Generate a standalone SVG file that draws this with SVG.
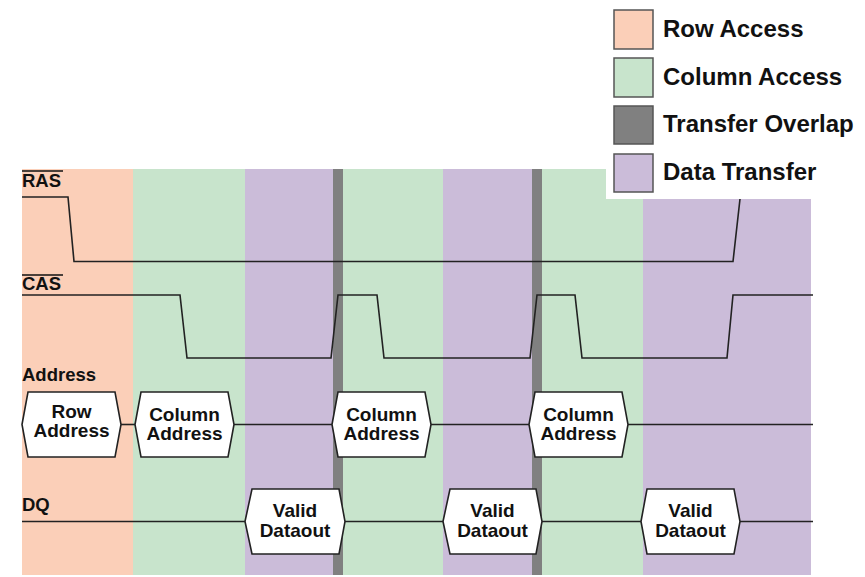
<svg xmlns="http://www.w3.org/2000/svg" width="865" height="577" viewBox="0 0 865 577">
<style>
.row{fill:#fbcfb8}
.col{fill:#c8e4cc}
.ovl{fill:#808080}
.dat{fill:#cbbcd9}
.sig{fill:none;stroke:#222;stroke-width:1.6;stroke-linejoin:miter}
.hex{fill:#fff;stroke:#222;stroke-width:1.6}
.lbl{font-family:"Liberation Sans",Arial,sans-serif;font-weight:bold;font-size:18.5px;fill:#111}
.ht{font-family:"Liberation Sans",Arial,sans-serif;font-weight:bold;font-size:19px;fill:#111;text-anchor:middle}
.lg{font-family:"Liberation Sans",Arial,sans-serif;font-weight:bold;font-size:24px;fill:#111}
.sw{stroke:#555;stroke-width:1.5}
</style>
<rect width="865" height="577" fill="#fff"/>
<g id="bands">
<rect class="row" x="22" y="169" width="111" height="406"/>
<rect class="col" x="133" y="169" width="112" height="406"/>
<rect class="dat" x="245" y="169" width="88" height="406"/>
<rect class="ovl" x="333" y="169" width="10" height="406"/>
<rect class="col" x="343" y="169" width="100" height="406"/>
<rect class="dat" x="443" y="169" width="89" height="406"/>
<rect class="ovl" x="532" y="169" width="10" height="406"/>
<rect class="col" x="542" y="169" width="101" height="406"/>
<rect class="dat" x="643" y="169" width="168" height="406"/>
</g>
<g id="connectors">
<polyline class="sig" points="22,197 68,197 74,261.5 733,261.5 741,190"/>
<polyline class="sig" points="22,295 180,295 187,358 331,358 338,295 377,295 384,358 530,358 537,295 575,295 582,358 727,358 733,295 813,295"/>
<line class="sig" x1="121" y1="424.5" x2="135" y2="424.5"/>
<line class="sig" x1="234" y1="424.5" x2="332" y2="424.5"/>
<line class="sig" x1="431" y1="424.5" x2="529" y2="424.5"/>
<line class="sig" x1="628" y1="424.5" x2="813" y2="424.5"/>
<line class="sig" x1="22" y1="521.5" x2="245" y2="521.5"/>
<line class="sig" x1="345" y1="521.5" x2="443" y2="521.5"/>
<line class="sig" x1="542" y1="521.5" x2="641" y2="521.5"/>
<line class="sig" x1="740" y1="521.5" x2="813" y2="521.5"/>
</g>
<g id="legend">
<rect x="606" y="0" width="259" height="199" fill="#fff"/>
<rect class="row sw" x="614" y="10" width="39" height="39"/>
<rect class="col sw" x="614" y="58" width="39" height="39"/>
<rect class="ovl sw" x="614" y="106" width="39" height="38"/>
<rect class="dat sw" x="614" y="154" width="39" height="38"/>
<text class="lg" x="663" y="36.5">Row Access</text>
<text class="lg" x="663" y="84.5">Column Access</text>
<text class="lg" x="663" y="132">Transfer Overlap</text>
<text class="lg" x="663" y="180">Data Transfer</text>
</g>
<g id="labels">
<text class="lbl" x="22" y="187">RAS</text>
<line x1="22" y1="171" x2="63" y2="171" stroke="#111" stroke-width="1.6"/>
<text class="lbl" x="22" y="290">CAS</text>
<line x1="22" y1="275" x2="63" y2="275" stroke="#111" stroke-width="1.6"/>
<text class="lbl" x="22" y="381">Address</text>
<text class="lbl" x="22" y="511">DQ</text>
</g>
<g id="row-address">
<polygon class="hex" points="22,424.5 28,392 115,392 121,424.5 115,457 28,457"/>
<text class="ht" x="71.5" y="418">Row</text>
<text class="ht" x="71.5" y="437">Address</text>
</g>
<g id="column-address-1">
<polygon class="hex" points="135,424.5 141,392 228,392 234,424.5 228,457 141,457"/>
<text class="ht" x="184.5" y="421">Column</text>
<text class="ht" x="184.5" y="440">Address</text>
</g>
<g id="column-address-2">
<polygon class="hex" points="332,424.5 338,392 425,392 431,424.5 425,457 338,457"/>
<text class="ht" x="381.5" y="421">Column</text>
<text class="ht" x="381.5" y="440">Address</text>
</g>
<g id="column-address-3">
<polygon class="hex" points="529,424.5 535,392 622,392 628,424.5 622,457 535,457"/>
<text class="ht" x="578.5" y="421">Column</text>
<text class="ht" x="578.5" y="440">Address</text>
</g>
<g id="valid-dataout-1">
<polygon class="hex" points="245,521.5 252,489 339,489 345,521.5 339,554 252,554"/>
<text class="ht" x="295" y="517">Valid</text>
<text class="ht" x="295" y="537">Dataout</text>
</g>
<g id="valid-dataout-2">
<polygon class="hex" points="443,521.5 450,489 536,489 542,521.5 536,554 450,554"/>
<text class="ht" x="492.5" y="517">Valid</text>
<text class="ht" x="492.5" y="537">Dataout</text>
</g>
<g id="valid-dataout-3">
<polygon class="hex" points="641,521.5 647,489 734,489 740,521.5 734,554 647,554"/>
<text class="ht" x="690.5" y="517">Valid</text>
<text class="ht" x="690.5" y="537">Dataout</text>
</g>
</svg>
